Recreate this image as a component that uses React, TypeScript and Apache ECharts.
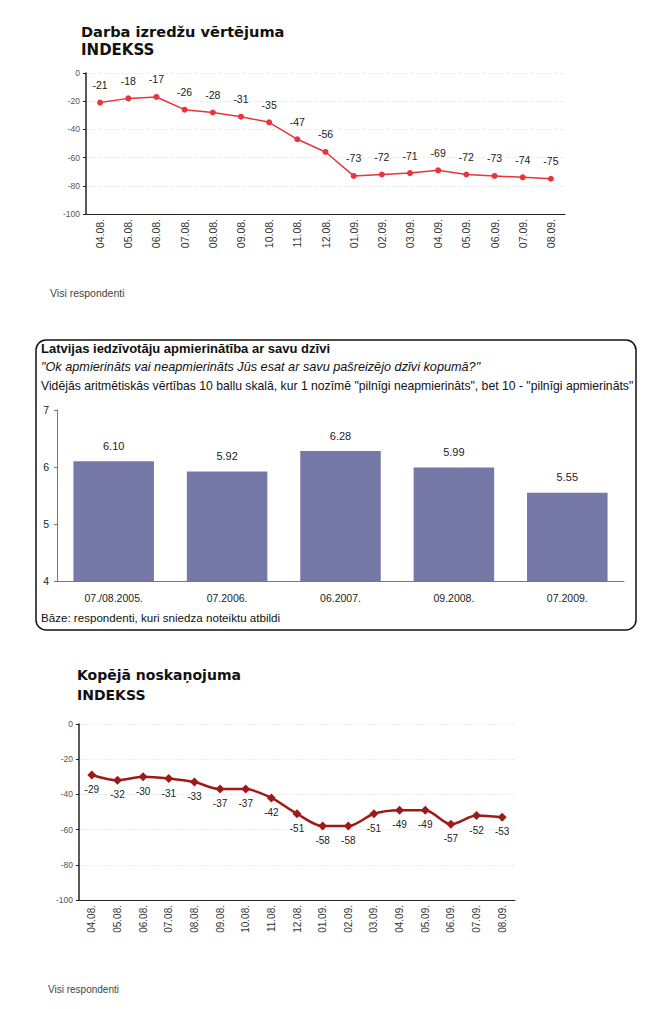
import React, { useEffect, useRef } from "react";
import * as echarts from "echarts";

const months = ["04.08.", "05.08.", "06.08.", "07.08.", "08.08.", "09.08.", "10.08.", "11.08.", "12.08.", "01.09.", "02.09.", "03.09.", "04.09.", "05.09.", "06.09.", "07.09.", "08.09."];
const jobIndex = [-21, -18, -17, -26, -28, -31, -35, -47, -56, -73, -72, -71, -69, -72, -73, -74, -75];
const moodIndex = [-29, -32, -30, -31, -33, -37, -37, -42, -51, -58, -58, -51, -49, -49, -57, -52, -53];
const surveyPeriods = ["07./08.2005.", "07.2006.", "06.2007.", "09.2008.", "07.2009."];
const satisfaction = [6.1, 5.92, 6.28, 5.99, 5.55];

const FONT = "Arial, 'Liberation Sans', sans-serif";
const WIDE = "'DejaVu Sans', Verdana, sans-serif";

export default function App() {
  const ref = useRef<HTMLDivElement>(null);
  useEffect(() => {
    const chart = echarts.init(ref.current!, null, { renderer: "svg" });
    const smallAxis = { color: "#555", fontSize: 8.5, fontFamily: FONT };
    chart.setOption({
      animation: false,
      backgroundColor: "#fff",
      textStyle: { fontFamily: FONT },
      grid: [
        { left: 86, top: 73, width: 479, height: 141 },
        { left: 57, top: 410, width: 567, height: 171 },
        { left: 79, top: 724, width: 436, height: 176 },
      ],
      xAxis: [
        {
          gridIndex: 0, type: "category", data: months,
          axisLine: { onZero: false, lineStyle: { color: "#222", width: 1 } },
          axisTick: { lineStyle: { color: "#222" }, length: 3 },
          axisLabel: { ...smallAxis, color: "#333", rotate: 90, fontSize: 10.5, margin: 5 },
        },
        {
          gridIndex: 1, type: "category", data: surveyPeriods,
          axisLine: { onZero: false, lineStyle: { color: "#777", width: 1 } },
          axisTick: { lineStyle: { color: "#777" }, length: 3 },
          axisLabel: { color: "#222", fontSize: 10.5, fontFamily: FONT, margin: 11 },
        },
        {
          gridIndex: 2, type: "category", data: months,
          axisLine: { onZero: false, lineStyle: { color: "#222", width: 1 } },
          axisTick: { lineStyle: { color: "#222" }, length: 3 },
          axisLabel: { ...smallAxis, color: "#333", rotate: 90, fontSize: 10, margin: 5 },
        },
      ],
      yAxis: [
        {
          gridIndex: 0, type: "value", min: -100, max: 0, interval: 20,
          axisLine: { show: true, lineStyle: { color: "#222", width: 1.5 } },
          axisTick: { show: true, length: 3, lineStyle: { color: "#222" } },
          axisLabel: { ...smallAxis, margin: 6 },
          splitLine: { show: true, lineStyle: { color: "#eee", type: "dashed" } },
        },
        {
          gridIndex: 1, type: "value", min: 4, max: 7, interval: 1,
          axisLine: { show: true, lineStyle: { color: "#777", width: 1 } },
          axisTick: { show: true, length: 3, lineStyle: { color: "#777" } },
          axisLabel: { color: "#222", fontSize: 10.5, fontFamily: FONT, margin: 8 },
          splitLine: { show: false },
        },
        {
          gridIndex: 2, type: "value", min: -100, max: 0, interval: 20,
          axisLine: { show: true, lineStyle: { color: "#222", width: 1.5 } },
          axisTick: { show: true, length: 3, lineStyle: { color: "#222" } },
          axisLabel: { ...smallAxis, margin: 6 },
          splitLine: { show: true, lineStyle: { color: "#eee", type: "dashed" } },
        },
      ],
      series: [
        {
          type: "line", xAxisIndex: 0, yAxisIndex: 0, data: jobIndex,
          lineStyle: { color: "#e8353b", width: 1.5 },
          itemStyle: { color: "#e8353b" },
          symbol: "circle", symbolSize: 6,
          label: { show: true, position: "top", distance: 9, color: "#222", fontSize: 10.5, fontFamily: FONT },
        },
        {
          type: "bar", xAxisIndex: 1, yAxisIndex: 1, data: satisfaction,
          barCategoryGap: "29%",
          itemStyle: { color: "#7678a8" },
          label: {
            show: true, position: "top", distance: 10, color: "#222", fontSize: 11, fontFamily: FONT,
            formatter: (p: any) => Number(p.value).toFixed(2),
          },
        },
        {
          type: "line", xAxisIndex: 2, yAxisIndex: 2, data: moodIndex, smooth: 0.3,
          lineStyle: { color: "#9e1a1a", width: 2.5 },
          itemStyle: { color: "#9e1a1a" },
          symbol: "diamond", symbolSize: 9,
          label: { show: true, position: "bottom", distance: 5, color: "#222", fontSize: 10, fontFamily: FONT },
        },
      ],
      graphic: [
        { type: "text", left: 81, top: 24, style: { text: "Darba izredžu vērtējuma", font: `bold 14.6px ${WIDE}`, fill: "#111" } },
        { type: "text", left: 81, top: 42, style: { text: "INDEKSS", font: `bold 15px ${WIDE}`, fill: "#111" } },
        { type: "text", left: 50, top: 287, style: { text: "Visi respondenti", font: `10.5px ${FONT}`, fill: "#444" } },
        {
          type: "rect", shape: { x: 36, y: 340, width: 600, height: 290, r: 10 },
          style: { fill: "none", stroke: "#111", lineWidth: 1.5 },
        },
        { type: "text", left: 41, top: 342, style: { text: "Latvijas iedzīvotāju apmierinātība ar savu dzīvi", font: `bold 13px ${FONT}`, fill: "#111" } },
        { type: "text", left: 41, top: 360, style: { text: "\"Ok apmierināts vai neapmierināts Jūs esat ar savu pašreizējo dzīvi kopumā?\"", font: `italic 12.7px ${FONT}`, fill: "#111" } },
        { type: "text", left: 41, top: 380, style: { text: "Vidējās aritmētiskās vērtības 10 ballu skalā, kur 1 nozīmē \"pilnīgi neapmierināts\", bet 10 - \"pilnīgi apmierināts\"", font: `12.2px ${FONT}`, fill: "#111" } },
        { type: "text", left: 41, top: 611, style: { text: "Bāze: respondenti, kuri sniedza noteiktu atbildi", font: `11.6px ${FONT}`, fill: "#111" } },
        { type: "text", left: 77, top: 668, style: { text: "Kopējā noskaņojuma", font: `bold 14px ${WIDE}`, fill: "#111" } },
        { type: "text", left: 77, top: 688, style: { text: "INDEKSS", font: `bold 14px ${WIDE}`, fill: "#111" } },
        { type: "text", left: 48, top: 984, style: { text: "Visi respondenti", font: `10px ${FONT}`, fill: "#444" } },
      ],
    });
    return () => chart.dispose();
  }, []);
  return (
    <div
      ref={ref}
      style={{ position: "fixed", left: 0, top: 0, width: 645, height: 1009, background: "#fff" }}
    />
  );
}
